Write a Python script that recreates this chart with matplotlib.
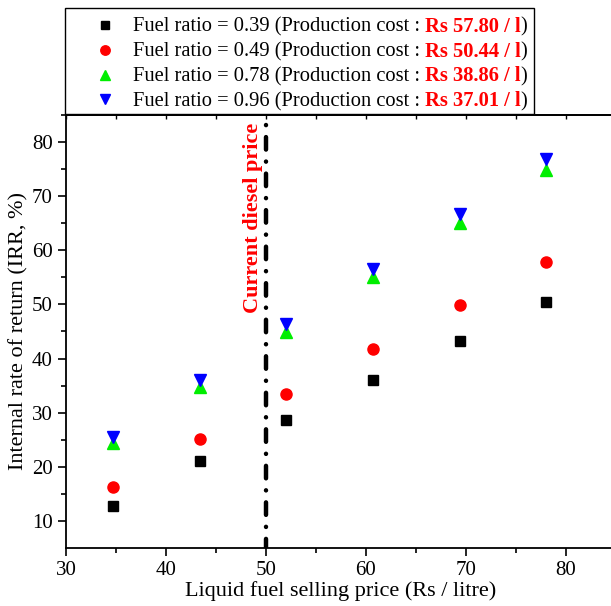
import matplotlib
matplotlib.use("Agg")
import matplotlib.pyplot as plt
from matplotlib.lines import Line2D
from matplotlib.offsetbox import AnchoredOffsetbox, HPacker, VPacker, TextArea, DrawingArea

plt.rcParams['font.family'] = ['Liberation Serif', 'DejaVu Serif']
plt.rcParams['lines.scale_dashes'] = False

price = [34.7, 43.4, 52.0, 60.7, 69.4, 78.0]
irr_039 = [12.7, 21.0, 28.7, 36.0, 43.3, 50.4]
irr_049 = [16.2, 25.2, 33.5, 41.7, 49.9, 57.9]
irr_078 = [24.4, 34.7, 44.9, 55.0, 65.0, 74.9]
irr_096 = [25.5, 36.1, 46.4, 56.5, 66.7, 76.9]

ratios = ['0.39', '0.49', '0.78', '0.96']
costs = ['Rs 57.80 / l', 'Rs 50.44 / l', 'Rs 38.86 / l', 'Rs 37.01 / l']
series = [irr_039, irr_049, irr_078, irr_096]
colors = ['black', 'red', '#00ee00', 'blue']
markers = ['s', 'o', '^', 'v']
sizes = [7, 8, 8.5, 8.5]

diesel_price = 50

fig = plt.figure(figsize=(6.11, 6.06), dpi=100)
ax = fig.add_axes([66 / 611, 58 / 606, 550 / 611, 433 / 606])

for ys, c, m, s in zip(series, colors, markers, sizes):
    ax.plot(price, ys, linestyle='none', marker=m, color=c, markersize=s)

# dash-dot line drawn top-down so it starts with a dot
ax.plot([diesel_price, diesel_price], [83.2, 5], color='black', linewidth=3.2,
        linestyle=(17.6, (9, 8.6, 0.1, 8.6)), dash_capstyle='round')
ax.text(48.7, 83.6, 'Current diesel price', rotation=90, color='red',
        fontweight='bold', fontsize=16, ha='center', va='top')

ax.set_xlim(30, 85)
ax.set_ylim(5, 85)
ax.set_xticks(range(30, 81, 10))
ax.set_xticks(range(35, 86, 10), minor=True)
ax.set_yticks(range(10, 81, 10))
ax.set_yticks(range(15, 86, 10), minor=True)
ax.tick_params(which='both', labelsize=15, direction='out', width=1.2)
ax.tick_params(which='major', length=6)
ax.tick_params(which='minor', length=3.5)
ax.spines['right'].set_visible(False)
for sp in ax.spines.values():
    sp.set_linewidth(1.3)
ax.set_xlabel('Liquid fuel selling price (Rs / litre)', fontsize=16, labelpad=1)
ax.set_ylabel('Internal rate of return (IRR, %)', fontsize=16)
ax.yaxis.set_label_coords(-0.068, 0.5)

top = ax.secondary_xaxis('top')
top.set_xticks(range(30, 81, 10))
top.set_xticks(range(35, 86, 10), minor=True)
top.tick_params(which='both', direction='in', length=3, width=1, labeltop=False)
top.spines['top'].set_linewidth(1.3)

# legend with mixed colour text
rows = [DrawingArea(1, 1, 0, 0)]
for r, cost, c, m, s in zip(ratios, costs, colors, markers, sizes):
    da = DrawingArea(47, 10, 0, 0)
    da.add_artist(Line2D([27], [5], marker=m, color=c, markersize=s * 0.85, linestyle='none'))
    row = HPacker(children=[
        da,
        TextArea('Fuel ratio = %s (Production cost : ' % r, textprops=dict(fontsize=14.8)),
        TextArea(cost, textprops=dict(fontsize=14.8, color='red', fontweight='bold')),
        TextArea(')', textprops=dict(fontsize=14.8)),
        DrawingArea(3, 1, 0, 0),
    ], align='baseline', pad=0, sep=0)
    rows.append(row)
box = VPacker(children=rows, align='left', pad=0, sep=3.5)
anch = AnchoredOffsetbox(loc='upper left', child=box, pad=0.18, borderpad=0,
                         bbox_to_anchor=(65 / 611, 1 - 8 / 606),
                         bbox_transform=fig.transFigure, frameon=True)
anch.patch.set_edgecolor('black')
anch.patch.set_linewidth(1.0)
fig.add_artist(anch)

fig.savefig('out.png', dpi=100)
